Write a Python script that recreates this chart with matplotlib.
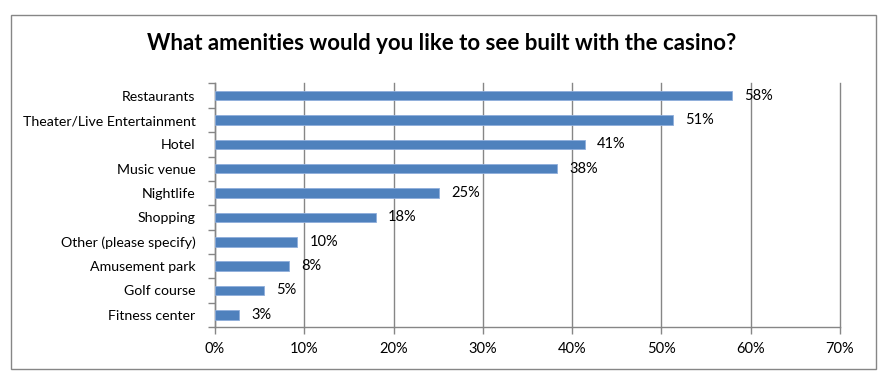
import matplotlib
matplotlib.use("Agg")
import matplotlib.pyplot as plt
from matplotlib.patches import Rectangle
from matplotlib.ticker import FixedLocator

categories = ["Restaurants", "Theater/Live Entertainment", "Hotel", "Music venue",
              "Nightlife", "Shopping", "Other (please specify)", "Amusement park",
              "Golf course", "Fitness center"]
values = [57.9, 51.3, 41.4, 38.3, 25.1, 18.0, 9.2, 8.3, 5.5, 2.7]
value_labels = ["58%", "51%", "41%", "38%", "25%", "18%", "10%", "8%", "5%", "3%"]
x_ticks = [0, 10, 20, 30, 40, 50, 60, 70]
x_tick_labels = ["0%", "10%", "20%", "30%", "40%", "50%", "60%", "70%"]
title = "What amenities would you like to see built with the casino?"

plt.rcParams['font.family'] = ['Lato', 'DejaVu Sans']

W, H = 889, 383
fig = plt.figure(figsize=(W / 100, H / 100), dpi=100)
fig.patch.set_facecolor("white")

# outer border
fig.add_artist(Rectangle((10.5 / W, 1 - 369 / H), 865 / W, 354 / H,
                         transform=fig.transFigure, fill=False,
                         edgecolor="#868686", linewidth=1.0))

ax = fig.add_axes([215 / W, 1 - 327 / H, 625 / W, 243.5 / H])
n = len(categories)
ypos = list(range(n))
ax.barh(ypos, values, height=0.39, color="#4F81BD", edgecolor="#8FAEDB",
        linewidth=0.6, zorder=3)
ax.set_ylim(n - 0.5, -0.5)
ax.set_xlim(0, 70)

ax.xaxis.set_major_locator(FixedLocator(x_ticks))
ax.set_xticklabels(x_tick_labels, fontsize=10.5)
ax.set_yticks(ypos)
ax.set_yticklabels(categories, fontsize=10.2)
ax.tick_params(axis="y", which="major", length=0, pad=14)
ax.yaxis.set_minor_locator(FixedLocator([i - 0.5 for i in range(n + 1)]))
ax.tick_params(axis="y", which="minor", length=5, width=1, color="#868686", direction="out")
ax.tick_params(axis="x", which="major", length=5, width=1, color="#868686", direction="out", pad=6)

ax.grid(axis="x", color="#868686", linewidth=1.0, zorder=0)
for gl in ax.get_xgridlines():
    gl.set_clip_on(False)
for s in ["top", "right"]:
    ax.spines[s].set_visible(False)
for s in ["left", "bottom"]:
    ax.spines[s].set_color("#868686")
    ax.spines[s].set_linewidth(1.0)

for y, v, lab in zip(ypos, values, value_labels):
    ax.annotate(lab, (v, y), xytext=(9, 0), textcoords="offset points",
                va="center", ha="left", fontsize=10.5, color="black")

fig.text(0.497, 1 - 44 / H, title, ha="center", va="center",
         fontsize=16, fontweight="bold")

fig.savefig("out.png", dpi=100)
